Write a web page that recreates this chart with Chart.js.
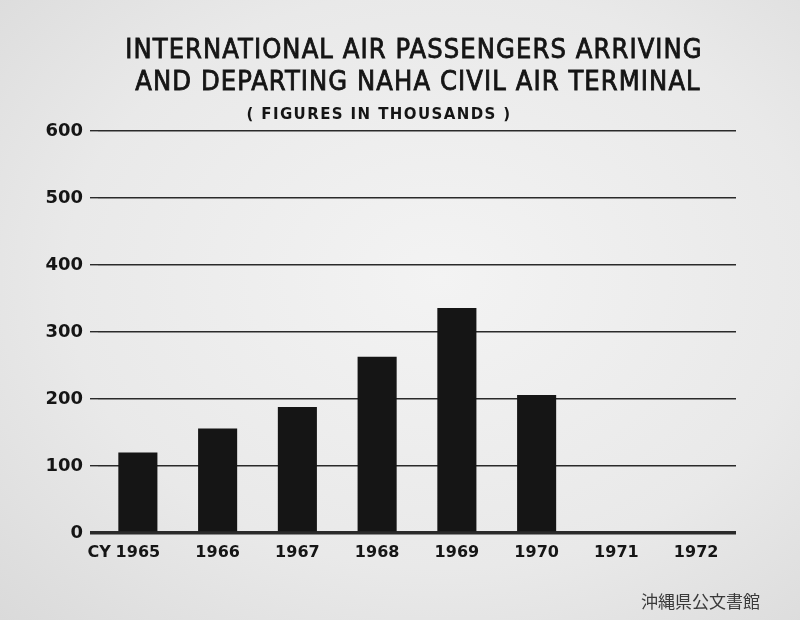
<!DOCTYPE html>
<html>
<head>
<meta charset="utf-8">
<script src="https://cdn.jsdelivr.net/npm/chart.js@4.4.1/dist/chart.umd.min.js"></script>
<style>
  html, body { margin: 0; padding: 0; }
  body {
    width: 800px; height: 620px; overflow: hidden; position: relative;
    background: radial-gradient(ellipse at 55% 45%, #f3f3f3 0%, #e9e9e9 60%, #dadada 100%);
  }
  #wrap { position: absolute; left: 0; top: 0; width: 800px; height: 620px; }
  #stamp {
    position: absolute; left: 641px; top: 588px;
    font-family: "Noto Sans CJK JP", sans-serif; font-size: 17px; color: #3a3a3a;
  }
</style>
</head>
<body>
<div id="wrap"><canvas id="airChart" width="800" height="620"></canvas></div>
<div id="stamp">沖縄県公文書館</div>
<script>
// data (thousands of passengers)
const years = ['1965', '1966', '1967', '1968', '1969', '1970', '1971', '1972'];
const passengers = [120, 156, 188, 263, 336, 206, null, null];
const yTicks = [0, 100, 200, 300, 400, 500, 600];
const yearPrefix = 'CY';
const titleLines = ['INTERNATIONAL AIR PASSENGERS ARRIVING', 'AND DEPARTING NAHA CIVIL AIR TERMINAL'];
const subTitle = '( FIGURES IN THOUSANDS )';

const ink = '#151515';
const titleFont = '"Liberation Sans Narrow", "DejaVu Sans Condensed", "Roboto", sans-serif';

// titles and the "CY" prefix, placed like the hand lettering
const lettering = {
    id: 'lettering',
    afterDraw(chart) {
        const c = chart.ctx;
        c.save();
        c.fillStyle = ink;
        c.strokeStyle = ink;
        c.lineWidth = 0.8;
        c.textAlign = 'center';
        c.textBaseline = 'middle';
        c.font = '27px ' + titleFont;
        c.letterSpacing = '1.1px';
        c.fillText(titleLines[0], 414, 51);
        c.strokeText(titleLines[0], 414, 51);
        c.fillText(titleLines[1], 418, 83);
        c.strokeText(titleLines[1], 418, 83);
        c.font = 'bold 15px "DejaVu Sans", sans-serif';
        c.letterSpacing = '1.4px';
        c.fillText(subTitle, 379, 115);
        c.letterSpacing = '0px';
        const x = chart.scales.x;
        c.font = 'bold 16px "DejaVu Sans", sans-serif';
        c.textAlign = 'right';
        c.textBaseline = 'top';
        c.fillText(yearPrefix, x.getPixelForTick(0) - 27, 545);
        c.restore();
    }
};

const ctx = document.getElementById('airChart').getContext('2d');
const airChart = new Chart(ctx, {
    type: 'bar',
    data: {
        labels: years,
        datasets: [{
            label: 'Passengers',
            data: passengers,
            backgroundColor: ink,
            borderWidth: 0,
            categoryPercentage: 1,
            barPercentage: 0.49
        }]
    },
    options: {
        responsive: false,
        animation: false,
        layout: { padding: { top: 131, right: 64, bottom: 0, left: 0 } },
        plugins: {
            legend: { display: false },
            tooltip: { enabled: false }
        },
        scales: {
            x: {
                grid: { display: false, drawTicks: false },
                border: { display: false },
                ticks: {
                    color: ink,
                    padding: 10,
                    font: { family: '"DejaVu Sans", sans-serif', size: 16, weight: 'bold' }
                },
                afterFit: s => { s.height = 87; }
            },
            y: {
                min: 0,
                max: 600,
                afterBuildTicks: s => { s.ticks = yTicks.map(v => ({ value: v })); },
                grid: {
                    color: '#2a2a2a',
                    lineWidth: c => (c.tick && c.tick.value === 0 ? 3.5 : 1.4),
                    drawTicks: true,
                    tickLength: 8
                },
                border: { display: false },
                ticks: {
                    color: ink,
                    padding: 7,
                    font: { family: '"DejaVu Sans", sans-serif', size: 18, weight: 'bold' }
                },
                afterFit: s => { s.width = 98; }
            }
        }
    },
    plugins: [lettering]
});
</script>
</body>
</html>
